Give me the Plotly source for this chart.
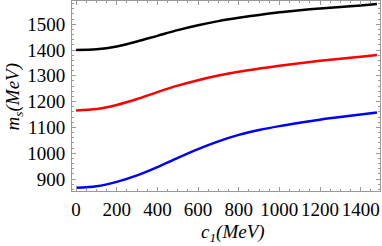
import plotly.graph_objects as go

c1 = [0, 100, 200, 300, 400, 500, 600, 700, 800, 900, 1000, 1100, 1200, 1300, 1400, 1480]
ms_black = [1400, 1403, 1414, 1433, 1455, 1477, 1496, 1512, 1525, 1536, 1546, 1554, 1561, 1567, 1573, 1578]
ms_red = [1166, 1171, 1187, 1210, 1237, 1262, 1283, 1301, 1316, 1328, 1339, 1349, 1358, 1366, 1374, 1381]
ms_blue = [866, 872, 889, 914, 946, 982, 1016, 1046, 1071, 1090, 1105, 1118, 1130, 1140, 1150, 1158]

x_ticks = [0, 200, 400, 600, 800, 1000, 1200, 1400]
y_ticks = [900, 1000, 1100, 1200, 1300, 1400, 1500]

fig = go.Figure()
for vals, col in [(ms_black, "black"), (ms_red, "red"), (ms_blue, "blue")]:
    fig.add_trace(go.Scatter(x=c1, y=vals, mode="lines",
                             line=dict(color=col, width=2.5, shape="spline", smoothing=0.8),
                             showlegend=False, hoverinfo="skip"))

font = dict(family="Liberation Serif", size=19, color="black")
axis_common = dict(showgrid=False, zeroline=False, showline=True, linecolor="#999999",
                   linewidth=1, mirror="allticks", ticks="inside", ticklen=4,
                   tickcolor="#999999", tickfont=font)

fig.update_xaxes(range=[-20, 1495], tickvals=x_ticks, ticktext=[str(v) for v in x_ticks],
                 minor=dict(dtick=50, tick0=0, ticks="inside", ticklen=2, tickcolor="#999999"),
                 ticklabelstandoff=1, **axis_common)
fig.update_yaxes(range=[853.5, 1590], tickvals=y_ticks, ticktext=[str(v) for v in y_ticks],
                 minor=dict(dtick=20, tick0=0, ticks="inside", ticklen=2, tickcolor="#999999"),
                 ticklabelstandoff=2, **axis_common)

fig.add_annotation(text="<i>c</i><sub><i>1</i></sub><i>(MeV)</i>", xref="paper", yref="paper",
                   x=0.523, y=-0.221, xanchor="center", yanchor="middle", showarrow=False, font=font)
fig.add_annotation(text="<i>m</i><sub><i>s</i></sub><i>(MeV)</i>", xref="paper", yref="paper",
                   x=-0.19, y=0.495, xanchor="center", yanchor="middle", showarrow=False,
                   textangle=-90, font=font)

fig.update_layout(width=382, height=246, margin=dict(l=72, r=2, t=1, b=55),
                  paper_bgcolor="white", plot_bgcolor="white", font=font)
fig.write_html("out.html", config={"displayModeBar": False, "staticPlot": True},
               post_script="document.body.style.margin='0';document.body.style.overflow='hidden';")
